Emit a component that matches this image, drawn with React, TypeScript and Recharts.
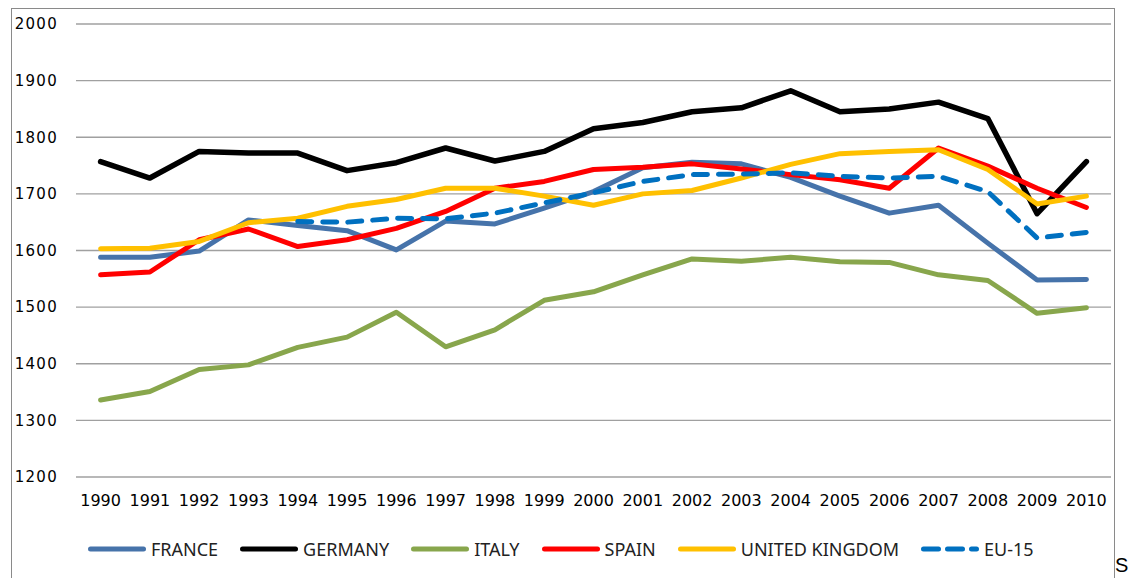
import React from 'react';
import { LineChart, Line, XAxis, YAxis, CartesianGrid, Legend } from 'recharts';

const years = ['1990', '1991', '1992', '1993', '1994', '1995', '1996', '1997', '1998', '1999', '2000',
  '2001', '2002', '2003', '2004', '2005', '2006', '2007', '2008', '2009', '2010'];

const france = [1588, 1588, 1599, 1654, 1644, 1635, 1601, 1652, 1647, 1675, 1704, 1746, 1756, 1753, 1729, 1696, 1666, 1680, 1613, 1548, 1549];
const germany = [1757, 1728, 1775, 1772, 1772, 1741, 1755, 1781, 1758, 1775, 1815, 1826, 1845, 1852, 1882, 1845, 1850, 1862, 1833, 1665, 1757];
const italy = [1336, 1351, 1390, 1398, 1429, 1447, 1491, 1430, 1460, 1512, 1527, 1557, 1585, 1581, 1588, 1580, 1579, 1557, 1547, 1489, 1499];
const spain = [1557, 1562, 1619, 1638, 1607, 1619, 1639, 1669, 1710, 1722, 1743, 1747, 1753, 1744, 1734, 1725, 1710, 1781, 1749, 1710, 1676];
const uk = [1603, 1604, 1616, 1649, 1657, 1678, 1690, 1710, 1710, 1696, 1680, 1700, 1706, 1728, 1752, 1771, 1775, 1778, 1743, 1682, 1696];
const eu15 = [null, null, null, null, 1651, 1650, 1657, 1656, 1666, 1684, 1702, 1722, 1734, 1735, 1737, 1731, 1728, 1731, 1704, 1622, 1632];

const yTicks = [1200, 1300, 1400, 1500, 1600, 1700, 1800, 1900, 2000];

const series = [
  { key: 'france', label: 'FRANCE', color: '#4673AA', dash: undefined, legendDash: undefined },
  { key: 'germany', label: 'GERMANY', color: '#000000', dash: undefined, legendDash: undefined },
  { key: 'italy', label: 'ITALY', color: '#88A64C', dash: undefined, legendDash: undefined },
  { key: 'spain', label: 'SPAIN', color: '#FF0000', dash: undefined, legendDash: undefined },
  { key: 'uk', label: 'UNITED KINGDOM', color: '#FFC000', dash: undefined, legendDash: undefined },
  { key: 'eu15', label: 'EU-15', color: '#0070C0', dash: '14 11', legendDash: '15 9' },
];

const data = years.map((year, i) => ({
  year,
  france: france[i],
  germany: germany[i],
  italy: italy[i],
  spain: spain[i],
  uk: uk[i],
  eu15: eu15[i],
}));

function renderLegend() {
  return (
    <div style={{ height: 51, paddingLeft: 88, paddingTop: 12, boxSizing: 'border-box', display: 'flex', alignItems: 'flex-start' }}>
      {series.map((s) => (
        <div key={s.key} style={{ display: 'flex', alignItems: 'center', height: 20, marginRight: 22 }}>
          <svg width={58} height={10} style={{ display: 'block' }}>
            <line x1={2.5} y1={5} x2={55.5} y2={5} stroke={s.color} strokeWidth={5}
              strokeLinecap="round" strokeDasharray={s.legendDash} />
          </svg>
          <span style={{ marginLeft: 5, fontFamily: '"Noto Sans", sans-serif', fontSize: 18, color: '#222', lineHeight: '20px', whiteSpace: 'nowrap' }}>
            {s.label}
          </span>
        </div>
      ))}
    </div>
  );
}

export default function App() {
  return (
    <div style={{ position: 'fixed', left: 0, top: 0, width: 1131, height: 578, overflow: 'hidden', background: '#fff' }}>
      <div style={{ position: 'absolute', left: 11, top: 8, width: 1102, height: 640, border: '1.5px solid #8a8a8a' }} />
      <div style={{ position: 'absolute', left: 0, top: 0 }}>
        <LineChart width={1131} height={578} data={data} margin={{ top: 24, right: 20, left: 0, bottom: 0 }}>
          <CartesianGrid vertical={false} stroke="#a0a0a0" strokeWidth={1.3} />
          <XAxis
            dataKey="year"
            interval={0}
            padding={{ left: 24.6, right: 24.6 }}
            axisLine={false}
            tickLine={false}
            tickSize={0}
            tickMargin={18}
            height={50}
            tick={{ fontSize: 16, fill: '#000', fontFamily: '"DejaVu Sans", sans-serif' }}
          />
          <YAxis
            domain={[1200, 2000]}
            ticks={yTicks}
            width={76}
            axisLine={false}
            tickLine={false}
            tickSize={0}
            tickMargin={18}
            tick={{ fontSize: 15, fill: '#000', fontFamily: '"DejaVu Sans", sans-serif', letterSpacing: 1.3 }}
          />
          <Legend content={renderLegend} verticalAlign="bottom" wrapperStyle={{ left: 0, width: 1131, bottom: 0 }} />
          {series.map((s) => (
            <Line
              key={s.key}
              type="linear"
              dataKey={s.key}
              name={s.label}
              stroke={s.color}
              strokeWidth={s.key === 'germany' ? 5.5 : 5}
              strokeDasharray={s.dash}
              strokeLinecap="round"
              strokeLinejoin="round"
              dot={false}
              activeDot={false}
              isAnimationActive={false}
            />
          ))}
        </LineChart>
      </div>
      <div style={{ position: 'absolute', left: 1115, top: 555, fontFamily: '"Liberation Sans", Arial, sans-serif', fontSize: 20, lineHeight: '20px', color: '#000' }}>
        S
      </div>
    </div>
  );
}
